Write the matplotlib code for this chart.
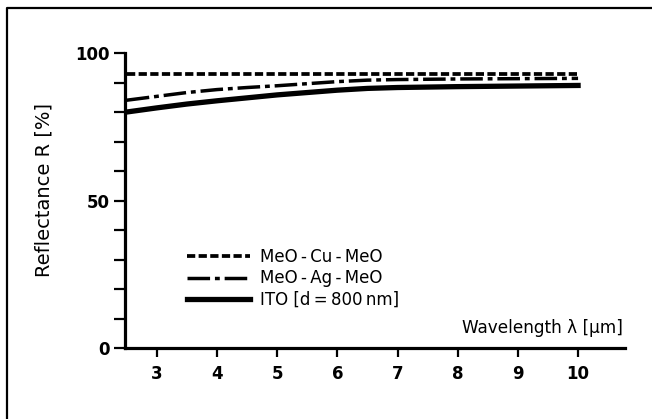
import numpy as np
import matplotlib.pyplot as plt
from matplotlib.lines import Line2D

plt.rcParams['font.family'] = ['DejaVu Sans']

# wavelength in micrometres
wavelength = [2.5, 3.0, 3.5, 4.0, 4.5, 5.0, 5.5, 6.0, 6.5, 7.0, 8.0, 9.0, 10.0]
# reflectance in percent
refl_cu = [93.0, 93.0, 93.0, 93.0, 93.0, 93.0, 93.0, 93.0, 93.0, 93.0, 93.0, 93.0, 93.0]
refl_ag = [84.0, 85.3, 86.6, 87.6, 88.3, 88.9, 89.6, 90.3, 90.8, 91.0, 91.2, 91.3, 91.4]
refl_ito = [80.0, 81.4, 82.7, 83.8, 84.8, 85.8, 86.6, 87.4, 88.0, 88.3, 88.6, 88.8, 89.0]

labels = ["MeO\u2009-\u2009Cu\u2009-\u2009MeO", "MeO\u2009-\u2009Ag\u2009-\u2009MeO", "ITO [d\u2009=\u2009800\u2009nm]"]
x_ticks = [3, 4, 5, 6, 7, 8, 9, 10]

W, H = 652, 419
fig = plt.figure(figsize=(W / 100, H / 100), dpi=100)
ax = fig.add_axes([125 / W, 71 / H, 500 / W, 295 / H])

ax.plot(wavelength, refl_cu, color="black", lw=2.7, dashes=(2.2, 0.9), label=labels[0])
ax.plot(wavelength, refl_ag, color="black", lw=2.5, dashes=(6.5, 1.4, 1.4, 1.4), label=labels[1])
ax.plot(wavelength, refl_ito, color="black", lw=3.8, label=labels[2])

ax.set_xlim(2.47, 10.78)
ax.set_ylim(0, 100)
ax.set_xticks(x_ticks)
ax.set_yticks([0, 50, 100])
ax.set_yticks(np.arange(0, 101, 10), minor=True)

for side in ["top", "right"]:
    ax.spines[side].set_visible(False)
for side in ["left", "bottom"]:
    ax.spines[side].set_linewidth(2.3)

ax.tick_params(axis="y", which="both", direction="out", length=8, width=1.6, pad=3)
ax.tick_params(axis="x", direction="out", length=6.5, width=1.6, pad=6)
ax.tick_params(labelsize=12)
for t in ax.get_xticklabels() + ax.get_yticklabels():
    t.set_fontweight("bold")

ax.text(0.996, 0.068, "Wavelength λ [μm]", transform=ax.transAxes,
        ha="right", va="center", fontsize=12.2)
fig.text(44 / W, 1 - 190 / H, "Reflectance R [%]", rotation=90,
         ha="center", va="center", fontsize=14)

ax.legend(loc="upper left", bbox_to_anchor=(0.124, 0.34), frameon=False,
          borderpad=0, borderaxespad=0, handlelength=3.8, handletextpad=0.6,
          labelspacing=0.22, fontsize=12)

# scanned frame: only top and left edges visible
fig.add_artist(Line2D([7 / W, 7 / W, 1.0], [0.0, 1 - 8 / H, 1 - 8 / H],
                      color="black", lw=1.6))

fig.savefig("out.png", dpi=100)
